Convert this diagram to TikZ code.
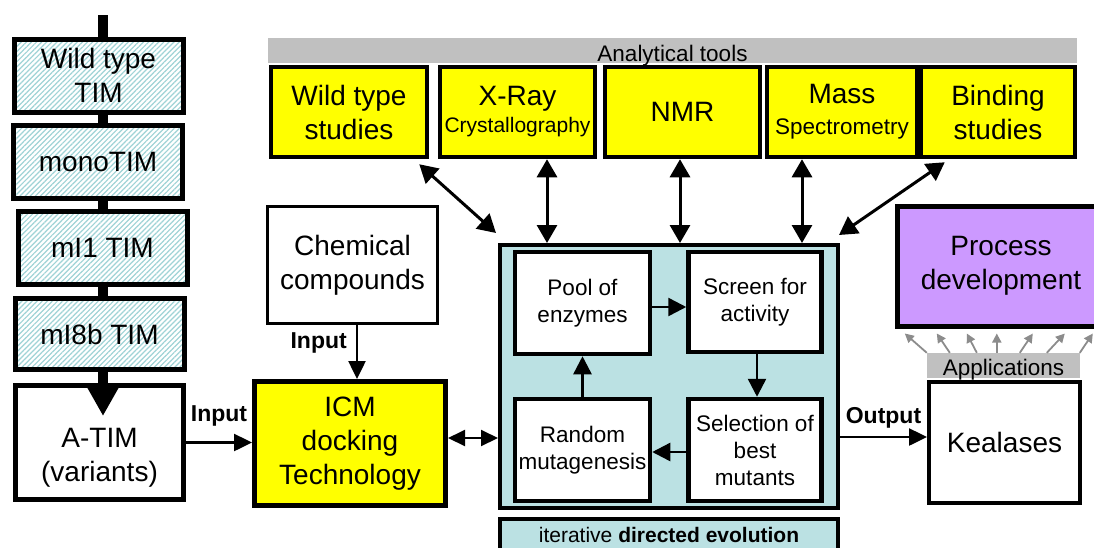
\documentclass[tikz,border=0pt]{standalone}
\usepackage{fontspec}
\setmainfont{Liberation Sans}
\usetikzlibrary{arrows.meta,patterns.meta}

\definecolor{hatch}{HTML}{9FD3D6}
\definecolor{evoteal}{HTML}{BBE1E3}
\definecolor{toolyellow}{HTML}{FFFF00}
\definecolor{procpurple}{HTML}{CC99FF}
\definecolor{bandgray}{HTML}{C0C0C0}
\definecolor{apparrow}{HTML}{8C8C8C}

\newcommand{\bigtxt}{\fontsize{28}{34}\selectfont}
\newcommand{\midtxt}{\fontsize{22.5}{27}\selectfont}
\newcommand{\smalltxt}{\fontsize{22.5}{27}\selectfont}
\newcommand{\subtxt}{\fontsize{21}{25}\selectfont}
\newcommand{\labtxt}{\fontsize{23}{27}\selectfont\bfseries}

\begin{document}
\begin{tikzpicture}[x=1pt,y=-1pt,line join=miter,
  box/.style={draw=black,rectangle,inner sep=0pt,align=center,line width=#1},
  box/.default=4.5pt,
  variant/.style={box=5pt,preaction={fill=white},
    pattern={Lines[angle=45,distance=3.6pt,line width=1.2pt]},pattern color=hatch,
    font=\bigtxt,minimum width=169pt,minimum height=73pt},
  plainbox/.style={box=#1,fill=white,font=\bigtxt},
  plainbox/.default=4.5pt,
  tool/.style={box,fill=toolyellow,font=\bigtxt,minimum height=90pt},
  stage/.style={box,fill=white,font=\midtxt,minimum width=133pt,minimum height=102pt},
  band/.style={fill=bandgray,inner sep=0pt,font=\smalltxt,text depth=0pt},
  flowlabel/.style={font=\labtxt,inner sep=0pt},
  link/.style={line width=2.5pt,-{Triangle[length=18pt,width=17pt]}},
  twoway/.style={line width=3pt,{Triangle[length=18pt,width=20pt]}-{Triangle[length=18pt,width=20pt]}},
  loopflow/.style={line width=2.5pt,-{Triangle[length=18pt,width=18pt]}},
  appl/.style={apparrow,line width=1.8pt,-{Triangle[length=9pt,width=9pt]}},
  chain/.style={line width=10pt}
]
\path[use as bounding box,clip] (0,0) rectangle (1094,547);
\fill[white] (0,0) rectangle (1094,547);

% ---- TIM variant column ----
\coordinate (feed) at (103,15);
\node[variant] (wt)   at (98.5,75.5) {Wild type\\TIM};
\node[variant] (mono) at (98,162)    {monoTIM};
\node[variant] (mi1)  at (102.5,247.5) {mI1 TIM};
\node[variant,minimum height=71pt] (mi8b) at (99.5,334) {mI8b TIM};
\node[plainbox=5pt,minimum width=168pt,minimum height=114pt] (atim) at (99.5,442.5)
  {\rule{0pt}{50pt}A-TIM\\(variants)};

\draw[chain] (feed) -- (feed |- wt.north);
\draw[chain] (feed |- wt.south) -- (feed |- mono.north);
\draw[chain] (feed |- mono.south) -- (feed |- mi1.north);
\draw[chain] (feed |- mi1.south) -- (feed |- mi8b.north);
\draw[chain,-{Triangle[length=30pt,width=31pt]},shorten >=-33pt]
  (feed |- mi8b.south) -- (feed |- atim.north);

% ---- analytical tools ----
\node[band,minimum width=809pt,minimum height=25pt,text height=21pt] (tools) at (672.5,50.5) {Analytical tools};
\node[tool,minimum width=156pt] (wts)  at (349,112)   {Wild type\\studies};
\node[tool,minimum width=155pt] (xray) at (517.5,112) {X-Ray\\[-7pt]{\subtxt Crystallography}};
\node[tool,minimum width=155pt] (nmr)  at (682.5,112) {NMR};
\node[tool,minimum width=150pt] (mass) at (842,112)   {Mass\\[-3pt]{\smalltxt Spectrometry}};
\node[tool,minimum width=154pt] (bind) at (998,112)   {Binding\\studies};

% ---- docking ----
\node[plainbox=3.5pt,minimum width=170pt,minimum height=117pt] (chem) at (352.5,265) {Chemical\\compounds};
\node[box=5pt,fill=toolyellow,font=\bigtxt,minimum width=191pt,minimum height=124pt] (icm) at (350,443.5)
  {ICM\\docking\\Technology};

% ---- directed evolution cycle ----
\node[box=4pt,fill=evoteal,minimum width=338pt,minimum height=263pt] (evo) at (669,376.5) {};
\node[stage,minimum width=135pt] (pool)   at (582.5,303) {Pool of\\enzymes};
\node[stage,minimum height=100pt] (screen) at (755,302) {Screen for\\activity};
\node[stage,minimum width=135pt] (random) at (582.5,450) {Random\\mutagenesis};
\node[stage] (select) at (755,450) {Selection of\\best\\mutants};
\node[box=4pt,fill=evoteal,font=\subtxt,minimum width=338pt,minimum height=36pt,
  text height=10pt,text depth=0pt] (iter) at (669,537)
  {iterative \textbf{directed evolution}};

\draw[loopflow] ([yshift=-4pt]pool.east) -- ([yshift=-4pt]pool.east -| screen.west);
\draw[loopflow] ([xshift=2pt]screen.south) -- ([xshift=2pt]screen.south |- select.north);
\draw[loopflow] ([yshift=-2pt]select.west) -- ([yshift=-2pt]select.west -| random.east);
\draw[loopflow] (random.north) -- (pool.south);

% ---- applications ----
\node[box=5pt,fill=procpurple,font=\bigtxt,minimum width=207pt,minimum height=120pt] (pdev) at (1001,266)
  {Process\\development};
\node[band,minimum width=153pt,minimum height=25pt,text height=19pt] (apps) at (1003.5,365.5) {Applications};
\node[plainbox=4pt,minimum width=151pt,minimum height=121pt] (kea) at (1004.5,442.5) {Kealases};

\foreach \tx/\hx in {0/-22, 23/10, 50/40, 70/70, 93/106, 120/138, 153/166}
  \draw[appl] ([xshift=\tx pt]apps.north west) -- ([xshift=\hx pt,yshift=-5pt]apps.north west |- pdev.south);

% ---- connectors ----
\draw[link] (atim.east) -- (atim.east -| icm.west)
  node[flowlabel,midway,above,yshift=15pt] {Input};
\draw[link] ([xshift=4.5pt]chem.south) -- ([xshift=4.5pt]chem.south |- icm.north)
  node[flowlabel,pos=0.33,left=9pt] {Input};
\draw[line width=2pt,{Triangle[length=17pt,width=16pt]}-{Triangle[length=17pt,width=16pt]}]
  ([yshift=5.5pt]icm.east) -- ([yshift=5.5pt]icm.east -| evo.west);
\draw[link] ([yshift=5.5pt]kea.west -| evo.east) -- ([yshift=5.5pt]kea.west)
  node[flowlabel,midway,above,yshift=7pt] {Output};

\draw[twoway] ([xshift=-10pt,yshift=-5pt]wts.south east) -- ([xshift=-2pt,yshift=10pt]evo.north west);
\draw[twoway] ([xshift=29.5pt]xray.south) -- ([xshift=29.5pt]xray.south |- evo.north);
\draw[twoway] ([xshift=-2.5pt]nmr.south) -- ([xshift=-2.5pt]nmr.south |- evo.north);
\draw[twoway] ([xshift=-40pt]mass.south) -- ([xshift=-40pt]mass.south |- evo.north);
\draw[twoway] ([xshift=26pt,yshift=-3pt]bind.south west) -- ([xshift=-1pt,yshift=8pt]evo.north east);
\end{tikzpicture}
\end{document}
